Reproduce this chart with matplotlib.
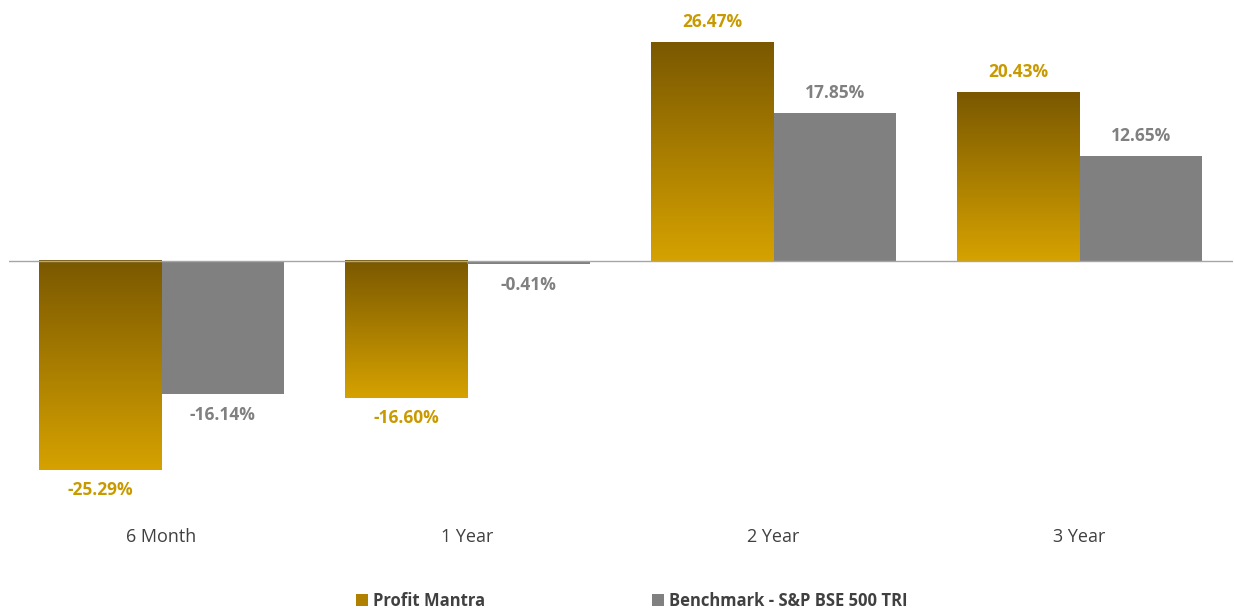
import numpy as np
import matplotlib
import matplotlib.pyplot as plt
from matplotlib.patches import Patch
from matplotlib.colors import LinearSegmentedColormap

matplotlib.use('Agg')
plt.rcParams['font.family'] = ['Open Sans', 'DejaVu Sans']

# datos
periodos = ['6 Month', '1 Year', '2 Year', '3 Year']
profit_mantra = [-25.29, -16.60, 26.47, 20.43]
benchmark = [-16.14, -0.41, 17.85, 12.65]
series = ['Profit Mantra', 'Benchmark - S&P BSE 500 TRI']

ORO_OSCURO = '#7a5800'
ORO_CLARO = '#d6a200'
ORO_TEXTO = '#c99a00'
GRIS = '#808080'

cmap_oro = LinearSegmentedColormap.from_list('oro', [ORO_CLARO, ORO_OSCURO])
gradiente = np.linspace(0, 1, 256).reshape(-1, 1)

fig = plt.figure(figsize=(12.34, 6.09), dpi=100)
ax = fig.add_axes([8.5 / 1234, 1 - 500 / 609, 1224 / 1234, 490 / 609])

x = np.arange(len(periodos))
ancho = 0.4

# barras doradas con degradado (oscuro arriba, claro abajo)
for xi, v in zip(x, profit_mantra):
    x0 = xi - ancho
    ax.imshow(gradiente, cmap=cmap_oro, aspect='auto', origin='lower',
              extent=(x0, x0 + ancho, min(0, v), max(0, v)), zorder=2)
    off = 8 if v >= 0 else -8
    ax.annotate(f'{v:.2f}%', (xi - ancho / 2, v), textcoords='offset points',
                xytext=(0, off), ha='center', va='bottom' if v >= 0 else 'top',
                fontsize=12.5, fontweight='bold', color=ORO_TEXTO)

# barras grises
ax.bar(x + ancho / 2, benchmark, width=ancho, color=GRIS, zorder=2)
for xi, v in zip(x, benchmark):
    off = 8 if v >= 0 else -8
    ax.annotate(f'{v:.2f}%', (xi + ancho / 2, v), textcoords='offset points',
                xytext=(0, off), ha='center', va='bottom' if v >= 0 else 'top',
                fontsize=12.5, fontweight='bold', color=GRIS)

ax.axhline(0, color='#a6a6a6', linewidth=1, zorder=3)

ax.set_xlim(-0.5, 3.5)
ax.set_ylim(-239 / 8.27, 251 / 8.27)
ax.set_yticks([])
ax.set_xticks([])
for s in ax.spines.values():
    s.set_visible(False)

for xi, nombre in zip(x, periodos):
    fig.text((8.5 + (xi + 0.5) * 306) / 1234, 1 - 537 / 609, nombre,
             ha='center', va='center', fontsize=13, color='#404040')

handles = [Patch(facecolor='#b08000', edgecolor='none'),
           Patch(facecolor=GRIS, edgecolor='none')]
leg = fig.legend(handles, series, loc='center', bbox_to_anchor=(0.512, 1 - 601 / 609),
                 ncol=2, frameon=False, handlelength=0.7, handleheight=0.7,
                 handletextpad=0.3, columnspacing=10,
                 prop={'weight': 'bold', 'size': 12})
for t in leg.get_texts():
    t.set_color('#404040')

plt.savefig('out.png', dpi=100)
